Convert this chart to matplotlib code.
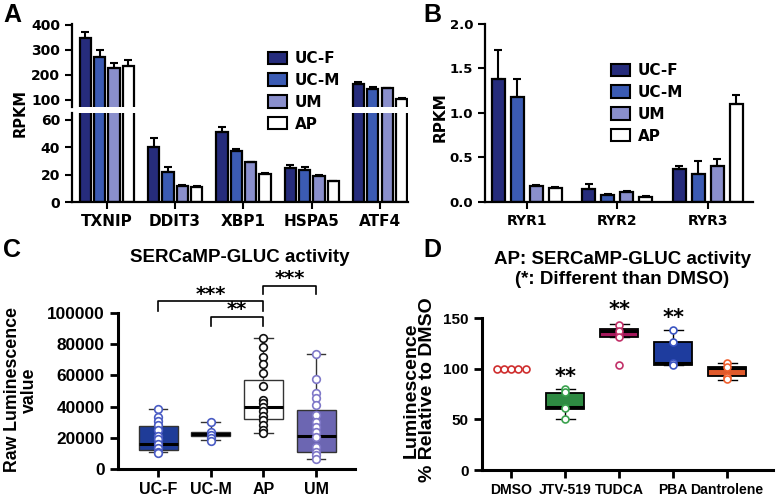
import matplotlib
matplotlib.use("Agg")
import matplotlib.pyplot as plt
from matplotlib.patches import Patch
import numpy as np

plt.rcParams['font.family'] = ['DejaVu Sans']
plt.rcParams['font.weight'] = 'bold'
plt.rcParams['axes.labelweight'] = 'bold'
plt.rcParams['axes.linewidth'] = 1.6

ARIAL = ['Liberation Sans', 'DejaVu Sans']

# ---- data: panel A (RPKM, mean and upper error) ----
groups = ['UC-F', 'UC-M', 'UM', 'AP']
genes_a = ['TXNIP', 'DDIT3', 'XBP1', 'HSPA5', 'ATF4']
a_ucf = [346, 40, 51, 24.5, 163]
a_ucm = [273, 22, 37, 23.5, 145]
a_um = [229, 12, 29, 19, 146]
a_ap = [237, 11, 20.5, 15, 101]
a_ucf_err = [26, 7, 4, 2.5, 10]
a_ucm_err = [28, 3.5, 1.5, 2, 7]
a_um_err = [20, 0.6, 0.5, 0.6, 3]
a_ap_err = [22, 0.8, 0.7, 0.5, 4]

# ---- data: panel B ----
genes_b = ['RYR1', 'RYR2', 'RYR3']
b_ucf = [1.38, 0.15, 0.37]
b_ucm = [1.18, 0.08, 0.32]
b_um = [0.18, 0.11, 0.41]
b_ap = [0.16, 0.06, 1.10]
b_ucf_err = [0.33, 0.05, 0.03]
b_ucm_err = [0.20, 0.01, 0.14]
b_um_err = [0.01, 0.01, 0.07]
b_ap_err = [0.01, 0.01, 0.10]

# ---- data: panel C (box stats + points) ----
c_groups = ['UC-F', 'UC-M', 'AP', 'UM']
c_q1 = [12100, 21300, 32300, 11000]
c_med = [16000, 22300, 39600, 21300]
c_q3 = [27400, 23800, 57200, 38100]
c_lo = [10600, 18300, 22800, 6400]
c_hi = [38300, 30200, 84000, 73400]
c_pts_ucf = [38300, 33400, 30800, 28500, 24900, 21300, 19000, 16000, 13200, 11000, 10200]
c_pts_ucm = [30200, 24000, 21700, 20000, 18100]
c_pts_ap = [84000, 78500, 72000, 67500, 61500, 53000, 44000, 42500, 39500, 37000,
            34000, 31300, 28000, 25000, 22800]
c_pts_um = [73400, 57400, 48700, 45700, 40800, 34500, 30200, 27000, 23400, 20600,
            14200, 11000, 8900, 6200]

# ---- data: panel D ----
d_groups = ['DMSO', 'JTV-519', 'TUDCA', 'PBA', 'Dantrolene']
d_q1 = [100, 60, 131, 104, 93]
d_med = [100, 62.6, 136.8, 106, 100.5]
d_q3 = [100, 76.4, 139, 126, 102]
d_lo = [100, 50, 131, 104, 89]
d_hi = [100, 80, 144, 138.4, 105.5]
d_pts_dmso = [100, 100, 100, 100, 100]
d_pts_jtv = [80, 76.5, 61, 50]
d_pts_tudca = [143.4, 137.5, 131.2, 103.8]
d_pts_pba = [138.4, 125.9, 106, 103.8]
d_pts_dant = [105.5, 102.1, 92.2, 89.6]

bar_colors = ['#262c7c', '#3b5bb3', '#8a8fcc', '#ffffff']

W, H = 778, 498
fig = plt.figure(figsize=(W / 100, H / 100), dpi=100)


def fax(x0, y0, x1, y1):
    # axes from pixel box (top-left origin)
    return fig.add_axes([x0 / W, 1 - y1 / H, (x1 - x0) / W, (y1 - y0) / H])


def draw_bars(ax, means, errs, width, step):
    n = len(means[0])
    x = np.arange(n)
    for i in range(4):
        xs = x + (i - 1.5) * step
        ax.bar(xs, means[i], width, color=bar_colors[i], edgecolor='black',
               linewidth=1.6, zorder=2)
        ax.errorbar(xs, means[i], yerr=[np.zeros(n), errs[i]], fmt='none',
                    ecolor='black', elinewidth=1.5, capsize=3, capthick=1.5, zorder=3)


def style(ax, size):
    for s in ['top', 'right']:
        ax.spines[s].set_visible(False)
    ax.tick_params(width=1.5, length=5, labelsize=size)


# ---------------- Panel A ----------------
a_means = [a_ucf, a_ucm, a_um, a_ap]
a_errs = [a_ucf_err, a_ucm_err, a_um_err, a_ap_err]
ax_up = fax(72, 24, 408, 107)
ax_lo = fax(72, 113, 408, 202)
for ax in (ax_up, ax_lo):
    draw_bars(ax, a_means, a_errs, 0.165, 0.21)
    style(ax, 10)
    ax.set_xlim(-0.51, 4.41)
ax_up.set_ylim(70.8, 404)
ax_up.set_yticks([100, 200, 300, 400])
ax_up.spines['bottom'].set_visible(False)
ax_up.set_xticks([])
ax_lo.set_ylim(0, 64.9)
ax_lo.set_yticks([0, 20, 40, 60])
ax_lo.set_xticks(range(len(genes_a)))
ax_lo.set_xticklabels(genes_a, fontsize=11)
fig.text(20 / W, 1 - 113 / H, 'RPKM', rotation=90, ha='center', va='center', fontsize=10.5)
handles = [Patch(facecolor=c, edgecolor='black', linewidth=1.5) for c in bar_colors]
ax_lo.legend(handles, groups, loc='upper left', bbox_to_anchor=(268 / W, 1 - 51 / H),
             bbox_transform=fig.transFigure, frameon=False, fontsize=11,
             handlelength=1.25, handleheight=0.85, handletextpad=0.5,
             labelspacing=0.45, borderpad=0, borderaxespad=0)

# ---------------- Panel B ----------------
b_means = [b_ucf, b_ucm, b_um, b_ap]
b_errs = [b_ucf_err, b_ucm_err, b_um_err, b_ap_err]
ax_b = fax(485, 24, 753, 202)
draw_bars(ax_b, b_means, b_errs, 0.145, 0.21)
style(ax_b, 9.5)
ax_b.set_xlim(-0.46, 2.5)
ax_b.set_ylim(0, 2.0)
ax_b.set_yticks([0, 0.5, 1.0, 1.5, 2.0])
ax_b.set_yticklabels(['0.0', '0.5', '1.0', '1.5', '2.0'])
ax_b.set_xticks(range(len(genes_b)))
ax_b.set_xticklabels(genes_b, fontsize=10)
fig.text(440 / W, 1 - 117 / H, 'RPKM', rotation=90, ha='center', va='center', fontsize=11)
ax_b.legend(handles, groups, loc='upper left', bbox_to_anchor=(611 / W, 1 - 63 / H),
            bbox_transform=fig.transFigure, frameon=False, fontsize=11,
            handlelength=1.25, handleheight=0.85, handletextpad=0.5,
            labelspacing=0.45, borderpad=0, borderaxespad=0)


def draw_boxes(ax, pos, q1, med, q3, lo, hi, fills, edge, width, capw, lw):
    stats = [dict(q1=q1[i], med=med[i], q3=q3[i], whislo=lo[i], whishi=hi[i])
             for i in range(len(pos))]
    bp = ax.bxp(stats, positions=pos, widths=width, capwidths=capw, patch_artist=True,
                showfliers=False,
                boxprops=dict(edgecolor=edge, linewidth=lw),
                medianprops=dict(color='black', linewidth=2.2),
                whiskerprops=dict(color=edge, linewidth=1.0),
                capprops=dict(color=edge, linewidth=1.0), zorder=2)
    for patch, c in zip(bp['boxes'], fills):
        patch.set_facecolor(c)


def bracket(ax, x0, x1, y, drop, label, ty, size=14):
    ax.plot([x0, x0, x1, x1], [y - drop, y, y, y - drop], color='black', lw=1.2,
            clip_on=False)
    ax.text((x0 + x1) / 2, ty, label, ha='center', va='center', fontsize=size)


# ---------------- Panel C ----------------
ax_c = fax(118, 313, 355, 469)
style(ax_c, 12.4)
ax_c.spines['left'].set_linewidth(2.2)
ax_c.spines['bottom'].set_linewidth(2.2)
c_fill = ['#1f3c98', '#2e50a8', '#ffffff', '#6c66b2']
c_edge_pts = ['#4a5cc4', '#4a5cc4', '#111111', '#7f78c8']
draw_boxes(ax_c, [0, 1, 2, 3], c_q1, c_med, c_q3, c_lo, c_hi, c_fill, '#333333',
           0.74, 0.35, 1.0)
for i, pts in enumerate([c_pts_ucf, c_pts_ucm, c_pts_ap, c_pts_um]):
    ax_c.plot(np.full(len(pts), i), pts, 'o', ms=5.5, mfc='white', mec=c_edge_pts[i],
              mew=1.2, zorder=3, clip_on=False)
ax_c.set_xlim(-0.76, 3.74)
ax_c.set_ylim(0, 100000)
ax_c.set_yticks([0, 20000, 40000, 60000, 80000, 100000])
ax_c.set_xticks(range(4))
ax_c.set_xticklabels(c_groups, fontsize=11.5)
ax_c.tick_params(width=2, length=6)
for t in ax_c.get_xticklabels() + ax_c.get_yticklabels():
    t.set_family(ARIAL)
fig.text(240 / W, 1 - 258 / H, 'SERCaMP-GLUC activity', ha='center', va='center',
         fontsize=13.5, family=ARIAL)
fig.text(21 / W, 1 - 390 / H, 'Raw Luminescence\nvalue', rotation=90, ha='center',
         va='center', fontsize=12.8, linespacing=1.0, family=ARIAL)
bracket(ax_c, 0, 2, 107850, 6300, '***', 112000)
bracket(ax_c, 1, 2, 97200, 5300, '**', 102200)
bracket(ax_c, 2, 3, 117400, 5100, '***', 121800)

# ---------------- Panel D ----------------
ax_d = fax(482, 318, 773, 470)
style(ax_d, 11)
ax_d.spines['left'].set_linewidth(2.2)
ax_d.spines['bottom'].set_linewidth(2.2)
d_fill = ['#2e8a42', '#a5195c', '#1e3c9e', '#e05a2c']
d_pt_col = ['#cf2e2e', '#3aa24e', '#c23068', '#3b55c2', '#f0602e']
draw_boxes(ax_d, [1, 2, 3, 4], d_q1[1:], d_med[1:], d_q3[1:], d_lo[1:], d_hi[1:],
           d_fill, 'black', 0.71, 0.35, 1.3)
dmso_x = np.arange(len(d_pts_dmso)) - (len(d_pts_dmso) - 1) / 2
ax_d.plot(dmso_x * 0.135, d_pts_dmso, 'o', ms=5, mfc='white', mec=d_pt_col[0], mew=1.2,
          zorder=3)
for i, pts in enumerate([d_pts_jtv, d_pts_tudca, d_pts_pba, d_pts_dant]):
    ax_d.plot(np.full(len(pts), i + 1), pts, 'o', ms=5, mfc='white', mec=d_pt_col[i + 1],
              mew=1.2, zorder=3)
for xi, ty in [(1, 92), (2, 158), (3, 150)]:
    ax_d.text(xi, ty, '**', ha='center', va='center', fontsize=15)
ax_d.set_xlim(-0.54, 4.85)
ax_d.set_ylim(0, 150)
ax_d.set_yticks([0, 50, 100, 150])
ax_d.set_xticks(range(5))
ax_d.set_xticklabels(d_groups, fontsize=10.1)
ax_d.tick_params(width=2, length=6)
for t in ax_d.get_xticklabels() + ax_d.get_yticklabels():
    t.set_family(ARIAL)
fig.text(622 / W, 1 - 269.5 / H, 'AP: SERCaMP-GLUC activity\n(*: Different than DMSO)',
         ha='center', va='center', fontsize=13.5, linespacing=1.2, family=ARIAL)
fig.text(419 / W, 1 - 390 / H, 'Luminescence\n% Relative to DMSO', rotation=90,
         ha='center', va='center', fontsize=14, linespacing=0.95, family=ARIAL)

# panel letters
for lab, x, y in [('A', 12, 15), ('B', 432, 15), ('C', 12, 250), ('D', 432, 250)]:
    fig.text(x / W, 1 - y / H, lab, ha='center', va='center', fontsize=18, family=ARIAL)

fig.savefig('out.png', dpi=100)
